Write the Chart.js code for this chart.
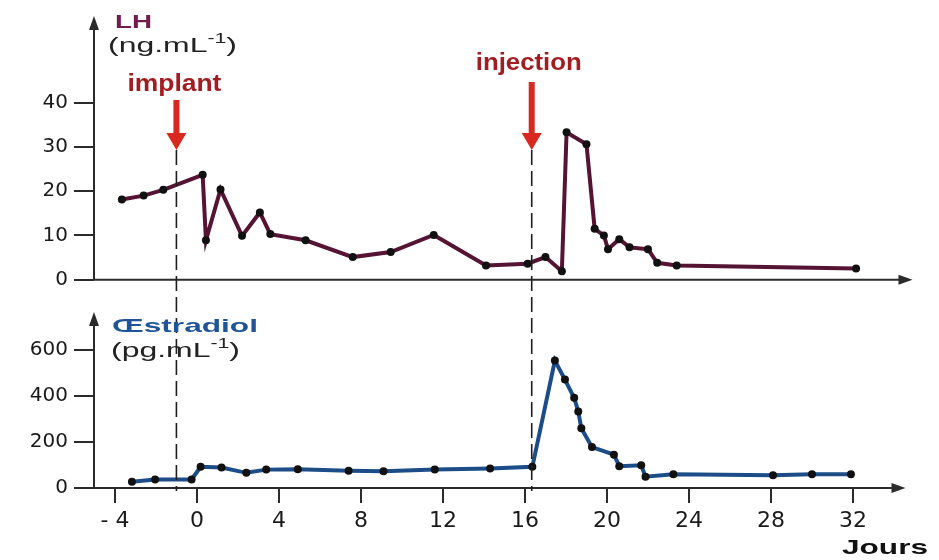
<!DOCTYPE html>
<html>
<head>
<meta charset="utf-8">
<script src="https://cdn.jsdelivr.net/npm/chart.js@4.4.1/dist/chart.umd.min.js"></script>
<style>
  html, body { margin: 0; padding: 0; background: #fff; }
  #wrap { width: 939px; height: 560px; }
</style>
</head>
<body>
<div id="wrap"><canvas id="chart" width="939" height="560"></canvas></div>
<script>
/* ---------- data ---------- */
const lhDays   = [-3.66, -2.6, -1.64, 0.28, 0.44, 1.15, 2.2, 3.07, 3.58, 5.3, 7.6, 9.45, 11.55, 14.1,
                  16.13, 17.0, 17.8, 18.03, 19.0, 19.4, 19.85, 20.05, 20.6, 21.1, 22.0, 22.45, 23.4, 32.15];
const lhValues = [18.1, 19.0, 20.3, 23.7, 8.9, 20.4, 9.9, 15.2, 10.3, 8.9, 5.1, 6.25, 10.1, 3.2,
                  3.6, 5.1, 1.9, 33.3, 30.6, 11.5, 10.0, 6.9, 9.15, 7.3, 6.9, 3.8, 3.2, 2.5];

const oeDays   = [-3.17, -2.04, -0.26, 0.18, 1.2, 2.41, 3.38, 4.92, 7.4, 9.1, 11.6, 14.3, 16.36,
                  17.46, 17.95, 18.4, 18.6, 18.75, 19.27, 20.34, 20.6, 21.67, 21.88, 23.24, 28.1, 30.0, 31.9];
const oeValues = [27, 37, 37, 92, 89, 66, 80, 82, 75, 73, 80, 85, 92,
                  555, 472, 393, 333, 260, 178, 145, 95, 99, 49, 60, 56, 60, 60];

const dayTicks = [-4, 0, 4, 8, 12, 16, 20, 24, 28, 32];
const lhTicks  = [0, 10, 20, 30, 40];
const oeTicks  = [0, 200, 400, 600];

const implantDay   = -1;
const injectionDay = 16.33;

/* ---------- helpers ---------- */
const AXIS = '#2b2b2b';

function arrowLine(ctx, x1, y1, x2, y2) {
    const a = Math.atan2(y2 - y1, x2 - x1);
    const len = 14, hw = 5;
    ctx.beginPath();
    ctx.moveTo(x1, y1);
    ctx.lineTo(x2 - Math.cos(a) * len * 0.8, y2 - Math.sin(a) * len * 0.8);
    ctx.stroke();
    ctx.beginPath();
    ctx.moveTo(x2, y2);
    ctx.lineTo(x2 - Math.cos(a) * len - Math.sin(a) * hw, y2 - Math.sin(a) * len + Math.cos(a) * hw);
    ctx.lineTo(x2 - Math.cos(a) * len + Math.sin(a) * hw, y2 - Math.sin(a) * len - Math.cos(a) * hw);
    ctx.closePath();
    ctx.fill();
}

function redArrow(ctx, x, yTop, yTip) {
    ctx.fillStyle = '#d8281f';
    ctx.fillRect(x - 3, yTop, 6, yTip - yTop - 14);
    ctx.beginPath();
    ctx.moveTo(x - 10, yTip - 17);
    ctx.lineTo(x + 10, yTip - 17);
    ctx.lineTo(x, yTip);
    ctx.closePath();
    ctx.fill();
}

// draws text parts stretched horizontally to a given width
function label(ctx, parts, x, y, width, color, align) {
    ctx.save();
    ctx.fillStyle = color;
    ctx.textBaseline = 'alphabetic';
    ctx.textAlign = 'left';
    let total = 0;
    parts.forEach(p => { ctx.font = p.font; total += ctx.measureText(p.t).width; });
    const sx = width / total;
    const startX = align === 'center' ? x - width / 2 : x;
    ctx.translate(startX, y);
    ctx.scale(sx, 1);
    let cx = 0;
    parts.forEach(p => {
        ctx.font = p.font;
        ctx.fillText(p.t, cx, p.dy || 0);
        cx += ctx.measureText(p.t).width;
    });
    ctx.restore();
}

/* ---------- decoration plugin ---------- */
const decor = {
    id: 'decor',
    beforeDatasetsDraw(chart) {
        const ctx = chart.ctx;
        const xs = chart.scales.x;
        const left = chart.chartArea.left;
        const lh0 = chart.scales.yLH.getPixelForValue(0);
        const oe0 = chart.scales.yE.getPixelForValue(0);
        ctx.save();
        ctx.strokeStyle = AXIS;
        ctx.fillStyle = AXIS;
        ctx.lineWidth = 2;
        arrowLine(ctx, left, lh0, left, chart.chartArea.top - 2);
        arrowLine(ctx, left, lh0, xs.right - 2, lh0);
        arrowLine(ctx, left, oe0, left, 312);
        arrowLine(ctx, left, oe0, xs.right - 9, oe0);
        ctx.restore();
    },
    afterDatasetsDraw(chart) {
        const ctx = chart.ctx;
        const xs = chart.scales.x;
        const oe0 = chart.scales.yE.getPixelForValue(0);
        const xImp = xs.getPixelForValue(implantDay);
        const xInj = xs.getPixelForValue(injectionDay);

        // dashed markers
        ctx.save();
        ctx.strokeStyle = '#1e1e1e';
        ctx.lineWidth = 1.6;
        ctx.setLineDash([15, 6]);
        [[xImp, 150], [xInj, 150]].forEach(([px, top]) => {
            ctx.beginPath();
            ctx.moveTo(px, top);
            ctx.lineTo(px, oe0 + 3);
            ctx.stroke();
        });
        ctx.restore();

        ctx.save();
        redArrow(ctx, xImp, 100, 150);
        redArrow(ctx, xInj, 82, 150);
        ctx.restore();

        const sans = '"Liberation Sans", Arial, sans-serif';
        label(ctx, [{ t: 'implant', font: 'bold 24px ' + sans }], xImp - 2, 91, 94, '#a11d22', 'center');
        label(ctx, [{ t: 'injection', font: 'bold 24px ' + sans }], xInj - 3, 70, 106, '#a11d22', 'center');

        label(ctx, [{ t: 'LH', font: 'bold 19px ' + sans }], 115, 28, 37, '#731a4f');
        label(ctx, [
            { t: '(ng.mL', font: '21px ' + sans },
            { t: '-1', font: '14px ' + sans, dy: -9 },
            { t: ')', font: '21px ' + sans }
        ], 108, 52, 129, '#222');

        label(ctx, [{ t: 'Œstradiol', font: 'bold 19px ' + sans }], 112, 332, 146, '#1f5596');
        label(ctx, [
            { t: '(pg.mL', font: '21px ' + sans },
            { t: '-1', font: '14px ' + sans, dy: -9 },
            { t: ')', font: '21px ' + sans }
        ], 111, 357, 129, '#222');

        label(ctx, [{ t: 'Jours', font: 'bold 21px ' + sans }], 842, 554, 86, '#111');
    }
};

/* ---------- chart ---------- */
const lhPoints = lhDays.map((d, i) => ({ x: d, y: lhValues[i] }));
const oePoints = oeDays.map((d, i) => ({ x: d, y: oeValues[i] }));

const tickFont = { family: '"DejaVu Sans", sans-serif', size: 20 };

new Chart(document.getElementById('chart'), {
    type: 'line',
    data: {
        datasets: [
            {
                label: 'LH',
                data: lhPoints,
                xAxisID: 'x',
                yAxisID: 'yLH',
                borderColor: '#561434',
                borderWidth: 4,
                pointRadius: 4,
                pointBackgroundColor: '#111',
                pointBorderWidth: 0,
                tension: 0
            },
            {
                label: 'Œstradiol',
                data: oePoints,
                xAxisID: 'x',
                yAxisID: 'yE',
                borderColor: '#1c4d88',
                borderWidth: 4,
                pointRadius: 4,
                pointBackgroundColor: '#111',
                pointBorderWidth: 0,
                tension: 0
            }
        ]
    },
    options: {
        responsive: false,
        animation: false,
        devicePixelRatio: 1,
        layout: { padding: { top: 12, right: 24.5, left: 0, bottom: 0 } },
        plugins: {
            legend: { display: false },
            tooltip: { enabled: false }
        },
        scales: {
            x: {
                type: 'linear',
                position: 'bottom',
                min: -5.02,
                max: 35,
                border: { display: false },
                grid: { drawOnChartArea: false, drawTicks: true, tickLength: 15, color: AXIS, lineWidth: 2 },
                ticks: {
                    font: { family: '"DejaVu Sans", sans-serif', size: 22 },
                    color: '#1a1a1a',
                    padding: 5,
                    maxRotation: 0,
                    autoSkip: false,
                    callback: (v) => v < 0 ? '- ' + Math.abs(v) : String(v)
                },
                afterBuildTicks: (s) => { s.ticks = dayTicks.map(v => ({ value: v })); },
                afterFit: (s) => { s.height = 72; }
            },
            yE: {
                type: 'linear',
                position: 'left',
                stack: 'hormones',
                stackWeight: 211,
                min: 0,
                max: 907,
                border: { display: false },
                grid: { drawOnChartArea: false, drawTicks: true, tickLength: 20, color: AXIS, lineWidth: 2 },
                ticks: { font: tickFont, color: '#1a1a1a', padding: 6 },
                afterBuildTicks: (s) => { s.ticks = oeTicks.map(v => ({ value: v })); },
                afterFit: (s) => { s.width = 94; }
            },
            yLH: {
                type: 'linear',
                position: 'left',
                stack: 'hormones',
                stackWeight: 265,
                min: 0,
                max: 59.15,
                border: { display: false },
                grid: { drawOnChartArea: false, drawTicks: true, tickLength: 20, color: AXIS, lineWidth: 2 },
                ticks: { font: tickFont, color: '#1a1a1a', padding: 6 },
                afterBuildTicks: (s) => { s.ticks = lhTicks.map(v => ({ value: v })); },
                afterFit: (s) => { s.width = 94; }
            }
        }
    },
    plugins: [decor]
});
</script>
</body>
</html>
